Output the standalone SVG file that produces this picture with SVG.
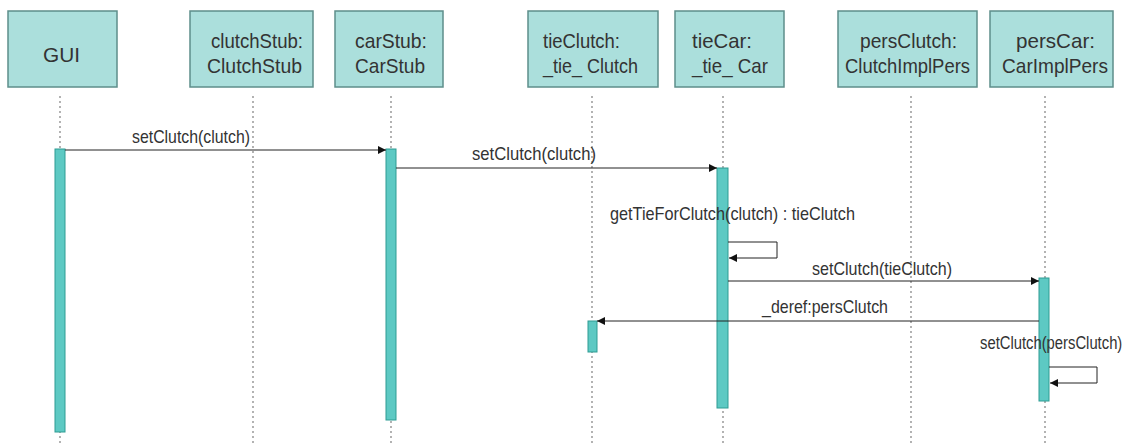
<svg xmlns="http://www.w3.org/2000/svg" width="1140" height="445" viewBox="0 0 1140 445">
<style>
.box{fill:#ABDFDC;stroke:#5E8E8B;stroke-width:1.5}
.bt{font-family:"Liberation Sans",Arial,sans-serif;font-size:21px;fill:#333}
.life{stroke:#8a8a8a;stroke-width:1.3;stroke-dasharray:2,3;fill:none}
.act{fill:#5DC9C3;stroke:#2E9C93;stroke-width:1}
.msg{stroke:#222;stroke-width:1;fill:none}
.ml{font-family:"Liberation Sans",Arial,sans-serif;font-size:19px;fill:#333}
</style>
<defs>
<marker id="ah" viewBox="0 0 10 10" refX="10" refY="5" markerWidth="10" markerHeight="8" markerUnits="userSpaceOnUse" orient="auto">
<path d="M0,0 L10,5 L0,10 z" fill="#111"/>
</marker>
</defs>
<rect width="1140" height="445" fill="#fff"/>
<g id="lifelines">
<line class="life" x1="60" y1="96" x2="60" y2="445"/>
<line class="life" x1="253" y1="96" x2="253" y2="445"/>
<line class="life" x1="391" y1="96" x2="391" y2="445"/>
<line class="life" x1="592" y1="96" x2="592" y2="445"/>
<line class="life" x1="723" y1="96" x2="723" y2="445"/>
<line class="life" x1="911" y1="96" x2="911" y2="445"/>
<line class="life" x1="1045" y1="96" x2="1045" y2="445"/>
</g>
<g id="GUI">
<rect class="box" x="8" y="11" width="109" height="76"/>
<text class="bt" x="61.5" y="62" text-anchor="middle" textLength="37" lengthAdjust="spacingAndGlyphs">GUI</text>
</g>
<g id="clutchStub">
<rect class="box" x="190" y="11" width="123" height="76"/>
<text class="bt" x="257" y="48" text-anchor="middle" textLength="92" lengthAdjust="spacingAndGlyphs">clutchStub:</text>
<text class="bt" x="254.5" y="73" text-anchor="middle" textLength="95" lengthAdjust="spacingAndGlyphs">ClutchStub</text>
</g>
<g id="carStub">
<rect class="box" x="335" y="11" width="108" height="76"/>
<text class="bt" x="391" y="48" text-anchor="middle" textLength="72" lengthAdjust="spacingAndGlyphs">carStub:</text>
<text class="bt" x="390" y="73" text-anchor="middle" textLength="70" lengthAdjust="spacingAndGlyphs">CarStub</text>
</g>
<g id="tieClutch">
<rect class="box" x="528" y="11" width="130" height="76"/>
<text class="bt" x="543" y="48" textLength="77" lengthAdjust="spacingAndGlyphs">tieClutch:</text>
<text class="bt" x="543" y="73" textLength="95" lengthAdjust="spacingAndGlyphs">_tie_ Clutch</text>
</g>
<g id="tieCar">
<rect class="box" x="675" y="11" width="109" height="76"/>
<text class="bt" x="692" y="48" textLength="60" lengthAdjust="spacingAndGlyphs">tieCar:</text>
<text class="bt" x="692" y="73" textLength="76" lengthAdjust="spacingAndGlyphs">_tie_ Car</text>
</g>
<g id="persClutch">
<rect class="box" x="838" y="11" width="139" height="76"/>
<text class="bt" x="908.5" y="48" text-anchor="middle" textLength="97" lengthAdjust="spacingAndGlyphs">persClutch:</text>
<text class="bt" x="907.5" y="73" text-anchor="middle" textLength="125" lengthAdjust="spacingAndGlyphs">ClutchImplPers</text>
</g>
<g id="persCar">
<rect class="box" x="990" y="11" width="123" height="76"/>
<text class="bt" x="1055.5" y="48" text-anchor="middle" textLength="79" lengthAdjust="spacingAndGlyphs">persCar:</text>
<text class="bt" x="1055" y="73" text-anchor="middle" textLength="106" lengthAdjust="spacingAndGlyphs">CarImplPers</text>
</g>
<g id="activations">
<rect class="act" x="55" y="149" width="10" height="283"/>
<rect class="act" x="386" y="149" width="10" height="271"/>
<rect class="act" x="717" y="168" width="11" height="240"/>
<rect class="act" x="588" y="321" width="9" height="31"/>
<rect class="act" x="1039" y="278" width="10" height="123"/>
</g>
<g id="connectors">
<line class="msg" x1="65" y1="150" x2="386" y2="150" marker-end="url(#ah)"/>
<text class="ml" x="132" y="143" textLength="118" lengthAdjust="spacingAndGlyphs">setClutch(clutch)</text>
<line class="msg" x1="396" y1="168" x2="717" y2="168" marker-end="url(#ah)"/>
<text class="ml" x="472" y="160" textLength="124" lengthAdjust="spacingAndGlyphs">setClutch(clutch)</text>
<polyline class="msg" points="728,242 777,242 777,258 729,258" marker-end="url(#ah)"/>
<text class="ml" x="610" y="220" textLength="245" lengthAdjust="spacingAndGlyphs">getTieForClutch(clutch) : tieClutch</text>
<line class="msg" x1="728" y1="281" x2="1039" y2="281" marker-end="url(#ah)"/>
<text class="ml" x="812" y="275" textLength="140" lengthAdjust="spacingAndGlyphs">setClutch(tieClutch)</text>
<line class="msg" x1="1039" y1="321" x2="597" y2="321" marker-end="url(#ah)"/>
<text class="ml" x="762" y="313" textLength="126" lengthAdjust="spacingAndGlyphs">_deref:persClutch</text>
<polyline class="msg" points="1049,367 1097,367 1097,383 1050,383" marker-end="url(#ah)"/>
<text class="ml" transform="translate(980,349) scale(0.78,1)" x="0" y="0">setClutch(persClutch)</text>
</g>
</svg>
